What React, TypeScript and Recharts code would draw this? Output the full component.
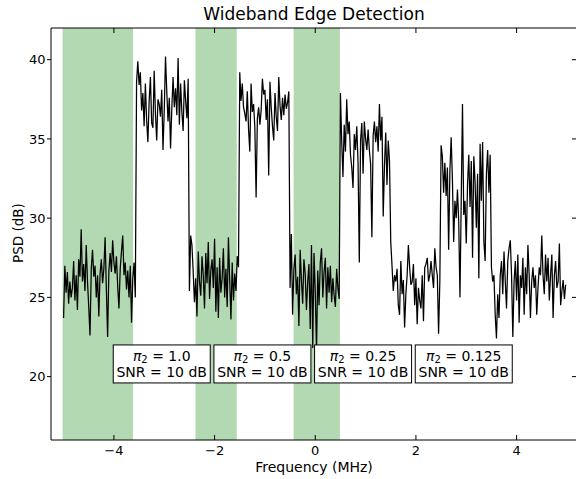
import React from "react";
import { LineChart, Line, XAxis, YAxis, ReferenceArea, ReferenceDot } from "recharts";

// segment edges in MHz (step changes in the PSD)
const bandEdges = [-5.0, -3.55, -2.5, -1.5, -0.5, 0.5, 1.5, 2.5, 3.5, 5.0];

const segA = [23.7, 27.0, 25.3, 26.6, 24.6, 26.0, 25.0, 25.6, 27.3, 24.8, 26.4, 24.2, 27.4, 26.3, 29.3, 26.0, 27.1, 25.4, 28.3, 26.0, 24.4, 22.6, 26.8, 28.0, 26.3, 27.0, 25.0, 26.4, 23.8, 26.5, 27.4, 25.9, 26.8, 28.8, 25.5, 22.5, 26.7, 27.8, 26.6, 28.6, 27.2, 26.5, 27.6, 25.7, 24.3, 26.8, 27.9, 28.9, 26.4, 27.2, 25.5, 26.7, 25.0, 27.0, 23.4, 26.2, 27.2, 25.0];
const segB = [38.6, 39.9, 38.4, 39.2, 36.8, 37.9, 35.8, 38.5, 36.2, 34.8, 37.4, 38.9, 36.0, 35.7, 39.3, 36.6, 34.9, 37.5, 37.2, 36.4, 38.1, 34.3, 36.8, 40.2, 38.0, 36.1, 37.6, 34.4, 36.9, 38.9, 37.0, 38.2, 36.5, 40.1, 35.9, 38.5, 36.7, 35.5, 38.7, 37.4, 36.3, 38.8];
const segC = [25.4, 28.9, 28.3, 26.6, 24.7, 26.2, 23.8, 27.9, 26.0, 25.1, 27.6, 26.4, 24.3, 27.8, 25.9, 28.5, 24.9, 26.7, 27.4, 25.6, 28.7, 24.1, 26.9, 23.7, 27.5, 25.3, 26.2, 28.1, 25.0, 26.8, 24.4, 28.8, 26.1, 23.6, 27.2, 24.8, 26.5, 25.4, 27.6, 26.9];
const segD = [39.2, 37.4, 38.5, 37.0, 36.6, 36.1, 38.0, 35.6, 34.2, 38.5, 36.7, 37.2, 35.7, 31.3, 36.3, 37.0, 35.9, 36.8, 38.8, 37.8, 38.1, 36.2, 37.5, 32.7, 38.6, 37.0, 35.8, 34.9, 37.9, 36.4, 35.5, 38.9, 37.1, 36.2, 37.6, 36.5, 37.8, 36.9, 37.3, 38.0];
const segE = [25.6, 29.0, 23.9, 26.8, 27.7, 25.2, 26.3, 23.2, 28.0, 26.1, 24.6, 27.4, 26.5, 24.2, 26.0, 27.1, 23.0, 28.3, 21.8, 27.8, 25.4, 21.6, 26.7, 24.5, 27.2, 28.1, 25.0, 26.6, 27.5, 24.3, 26.9, 25.3, 27.0, 24.7, 26.2, 25.1, 24.4, 26.8, 25.6, 24.9];
const segF = [37.9, 34.9, 32.6, 35.9, 34.2, 37.5, 35.3, 36.1, 34.0, 33.2, 31.9, 35.3, 34.3, 35.8, 33.5, 27.2, 34.9, 36.0, 32.8, 36.1, 35.0, 34.3, 35.6, 34.3, 33.4, 28.8, 35.2, 36.1, 34.8, 35.8, 34.2, 37.2, 34.9, 36.4, 30.1, 33.3, 35.4, 32.1, 34.9, 33.6];
const segG = [28.5, 27.0, 25.4, 26.4, 26.0, 26.8, 24.5, 23.9, 27.3, 25.2, 26.1, 23.1, 25.2, 26.4, 28.3, 26.9, 25.8, 26.0, 27.1, 24.5, 26.2, 23.3, 25.6, 24.8, 24.3, 26.4, 23.5, 26.9, 27.1, 27.5, 26.0, 26.4, 27.3, 26.4, 25.6, 28.1, 26.9, 26.4, 22.7, 26.0];
const segH = [34.6, 33.9, 31.6, 33.5, 31.4, 33.2, 28.0, 33.0, 35.1, 32.4, 28.5, 31.1, 30.0, 31.8, 29.8, 25.0, 31.1, 37.2, 30.2, 31.1, 28.4, 32.1, 34.0, 30.7, 33.6, 27.5, 33.9, 32.3, 29.4, 32.8, 26.2, 34.7, 31.1, 34.8, 28.5, 27.3, 32.8, 34.3, 31.6, 34.0];
const segI = [26.9, 26.0, 26.4, 23.9, 22.4, 25.2, 23.7, 26.4, 27.3, 25.2, 27.9, 26.0, 24.3, 27.3, 28.1, 28.6, 26.4, 22.5, 26.0, 27.3, 24.8, 27.7, 23.4, 26.4, 25.6, 27.5, 23.9, 26.9, 25.2, 28.3, 26.4, 23.7, 26.0, 26.9, 25.6, 26.4, 23.9, 25.6, 26.9, 26.4, 28.9, 26.4, 25.2, 27.7, 26.0, 27.5, 24.8, 26.4, 27.7, 23.7, 26.4, 27.3, 25.6, 26.0, 28.4, 24.5, 25.4, 26.1, 24.9, 25.8];

const psdSegments = [segA, segB, segC, segD, segE, segF, segG, segH, segI];

// detected spectrum holes (green)
const holes = [
  [-5.02, -3.62],
  [-2.38, -1.56],
  [-0.43, 0.49],
];

const boxFreqs = [-3.05, -1.05, 0.95, 2.95];
const boxLevel = 20.8;
const piLabels = ["1.0", "0.5", "0.25", "0.125"];

const xTicks = [-4, -2, 0, 2, 4];
const yTicks = [20, 25, 30, 35, 40];

const data: { freq: number; psd: number }[] = [];
psdSegments.forEach((vals, s) => {
  const lo = bandEdges[s];
  const hi = bandEdges[s + 1];
  vals.forEach((v, i) => data.push({ freq: lo + ((hi - lo) * i) / vals.length, psd: v }));
});

const font = "'DejaVu Sans', sans-serif";
const minus = (v: number) => (v < 0 ? `\u2212${-v}` : `${v}`);
const TICK = 5;

// tick marks drawn by hand (inward on bottom/top/right, outward on the left like the original)
const BottomTick = (props: any) => {
  const { x, y, payload } = props;
  return (
    <g>
      <line x1={x} y1={y} x2={x} y2={y - TICK} stroke="#000" />
      <text x={x} y={y + 6} dy="0.71em" textAnchor="middle" fontSize={13} fontFamily={font} fill="#000">
        {minus(payload.value)}
      </text>
    </g>
  );
};
const LeftTick = (props: any) => {
  const { x, y, payload } = props;
  return (
    <g>
      <line x1={x - 4} y1={y} x2={x} y2={y} stroke="#000" />
      <text x={x - 5.5} y={y} dy="0.355em" textAnchor="end" fontSize={13} fontFamily={font} fill="#000">
        {payload.value}
      </text>
    </g>
  );
};
const TopTick = (props: any) => <line x1={props.x} y1={props.y} x2={props.x} y2={props.y + TICK} stroke="#000" />;
const RightTick = (props: any) => <line x1={props.x} y1={props.y} x2={props.x - TICK} y2={props.y} stroke="#000" />;

const makeBox = (pi: string) => (props: any) => {
  const { cx, cy } = props;
  return (
    <g>
      <rect x={cx - 48.5} y={cy - 19} width={97} height={38} fill="#fff" stroke="#000" strokeWidth={1} />
      <text x={cx} y={cy - 8} textAnchor="middle" dominantBaseline="central" fontSize={14} fontFamily={font} fill="#000">
        <tspan fontStyle="italic">π</tspan>
        <tspan fontSize={10} dy={3}>2</tspan>
        <tspan dy={-3}> = {pi}</tspan>
      </text>
      <text x={cx} y={cy + 8} textAnchor="middle" dominantBaseline="central" fontSize={14} fontFamily={font} fill="#000">
        SNR = 10 dB
      </text>
    </g>
  );
};

export default function App() {
  return (
    <div style={{ position: "relative", width: 576, height: 479, overflow: "hidden", background: "#fff" }}>
      <style>{"body{margin:0;overflow:hidden}"}</style>
      <div
        style={{
          position: "absolute",
          left: 51,
          width: 526,
          top: 6,
          textAlign: "center",
          fontFamily: font,
          fontSize: 17,
          lineHeight: "17px",
          color: "#000",
          whiteSpace: "nowrap",
        }}
      >
        Wideband Edge Detection
      </div>
      <div
        style={{
          position: "absolute",
          left: -32,
          top: 225,
          width: 100,
          height: 16,
          lineHeight: "16px",
          textAlign: "center",
          transform: "rotate(-90deg)",
          fontFamily: font,
          fontSize: 13.5,
          color: "#000",
          whiteSpace: "nowrap",
        }}
      >
        PSD (dB)
      </div>
      <div style={{ position: "absolute", left: 8, top: 8 }}>
        <LineChart width={580} height={470} data={data} margin={{ top: 19, right: 10, bottom: 6, left: 0 }}>
          <XAxis
            type="number"
            dataKey="freq"
            domain={[-5.25, 5.2]}
            allowDataOverflow
            ticks={xTicks}
            interval={0}
            tick={BottomTick}
            tickSize={0}
            tickMargin={0}
            tickLine={false}
            height={32}
            axisLine={{ stroke: "#000" }}
            label={{ value: "Frequency (MHz)", position: "insideBottom", offset: 0, fill: "#000", fontSize: 14, fontFamily: font }}
          />
          <XAxis
            xAxisId="top"
            orientation="top"
            type="number"
            dataKey="freq"
            domain={[-5.25, 5.2]}
            allowDataOverflow
            ticks={xTicks}
            interval={0}
            tick={TopTick}
            tickSize={0}
            tickMargin={0}
            tickLine={false}
            height={1}
            axisLine={{ stroke: "#000" }}
          />
          <YAxis
            type="number"
            domain={[16, 42]}
            allowDataOverflow
            ticks={yTicks}
            interval={0}
            tick={LeftTick}
            tickSize={0}
            tickMargin={0}
            tickLine={false}
            width={43}
            axisLine={{ stroke: "#000" }}
          />
          <YAxis
            yAxisId="right"
            orientation="right"
            type="number"
            domain={[16, 42]}
            allowDataOverflow
            ticks={yTicks}
            interval={0}
            tick={RightTick}
            tickSize={0}
            tickMargin={0}
            tickLine={false}
            width={1}
            axisLine={{ stroke: "#000" }}
          />
          {holes.map(([a, b], i) => (
            <ReferenceArea key={i} x1={a} x2={b} fill="#b3d9b3" fillOpacity={1} stroke="none" zIndex={-10} />
          ))}
          <Line
            type="linear"
            dataKey="psd"
            stroke="#000"
            strokeWidth={1.25}
            dot={false}
            activeDot={false}
            isAnimationActive={false}
          />
          {boxFreqs.map((f, i) => (
            <ReferenceDot key={i} x={f} y={boxLevel} r={1} shape={makeBox(piLabels[i])} zIndex={700} />
          ))}
        </LineChart>
      </div>
    </div>
  );
}
